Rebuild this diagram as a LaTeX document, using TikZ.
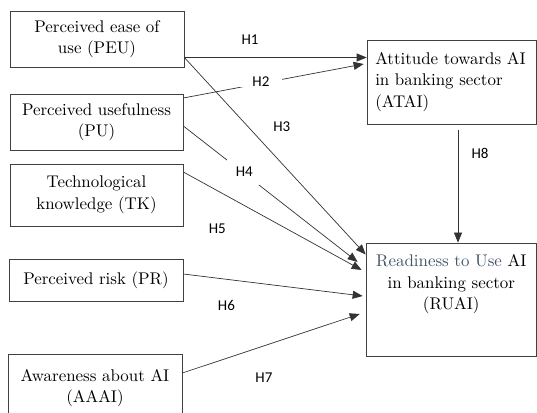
\documentclass[tikz,border=0pt]{standalone}
\usepackage{fontspec}
\newfontfamily\boxfont{lmroman10-regular}[Extension=.otf]
\newfontfamily\hypfont{Carlito}
\usetikzlibrary{arrows.meta}
\definecolor{ruaiblue}{HTML}{44546A}

\begin{document}
\begin{tikzpicture} [x = 1pt, y = 1pt, >={Triangle[length=10pt, width=8pt]},
  var/.style = {draw=black!75, line width=.7pt, inner xsep=4pt, align=center, font=\boxfont\fontsize{16.9}{21.5}\selectfont},
  hyp/.style = {font=\hypfont\fontsize{15}{18}\selectfont, inner sep=1pt},
  link/.style = {->, draw=black!80, line width=.7pt}]
\useasboundingbox (0,0) rectangle (537,412);
\clip (0,0) rectangle (537,412);
\node[var, minimum width=174pt, minimum height=56pt, text width=166pt] (peu) at (97,373) {Perceived ease of\\use (PEU)};
\node[var, minimum width=173pt, minimum height=56pt, text width=165pt] (pu) at (96.5,290) {Perceived usefulness\\(PU)};
\node[var, minimum width=173pt, minimum height=62pt, text width=165pt] (tk) at (96.5,217) {Technological\\knowledge (TK)};
\node[var, minimum width=174pt, minimum height=42pt, text width=166pt] (pr) at (96,132) {Perceived risk (PR)};
\node[var, minimum width=174pt, minimum height=68pt, text width=166pt] (aaai) at (95,24) {Awareness about AI\\(AAAI)};
\node[var, minimum width=169.5pt, minimum height=84pt, text width=153pt, inner xsep=8.25pt, align=left] (atai) at (451.75,330) {Attitude towards AI\\in banking sector\\(ATAI)};
\node[var, minimum width=170.5pt, minimum height=113pt, text width=162.5pt] (ruai) at (451.25,112.5) {\parbox[c][100pt][t]{162.5pt}{\vspace*{5pt}\centering\textcolor{ruaiblue}{Readiness to Use} AI\\in banking sector\\(RUAI)}};
\draw [link] ([yshift=-18.5pt]peu.east) -- ([yshift=24.5pt]atai.west) node[hyp, pos=.36, yshift=18pt]{H1};
\draw [link] ([yshift=24pt]pu.east) -- ([xshift=-3pt, yshift=18pt]atai.west) node[hyp, fill=white, inner xsep=13pt, pos=.43, yshift=2pt]{H2};
\draw [link] ([yshift=-18.5pt]peu.east) -- ([yshift=45pt]ruai.west) node[hyp, pos=.35, xshift=34pt]{H3};
\draw [link] ([yshift=-4pt]pu.east) -- ([xshift=-8pt, yshift=37.5pt]ruai.west) node[hyp, fill=white, inner sep=9pt, pos=.35, yshift=2pt]{H4};
\draw [link] ([yshift=23pt]tk.east) -- ([xshift=-4pt, yshift=29.5pt]ruai.west) node[hyp, pos=.19, yshift=-38pt]{H5};
\draw [link] ([yshift=6pt]pr.east) -- ([xshift=-3pt, yshift=3.5pt]ruai.west) node[hyp, pos=.24, yshift=-26pt]{H6};
\draw [link] ([yshift=15pt]aaai.east) -- ([xshift=-6pt, yshift=-14.5pt]ruai.west) node[hyp, pos=.46, yshift=-32pt]{H7};
\draw [link] ([xshift=6.25pt, yshift=-6pt]atai.south) -- ([xshift=6.75pt]ruai.north) node[hyp, pos=.21, xshift=22pt]{H8};
\end{tikzpicture}
\end{document}
